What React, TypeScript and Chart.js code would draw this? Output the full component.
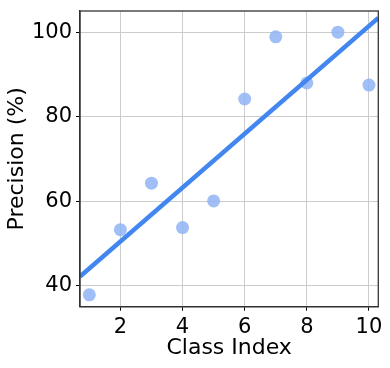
import React, { useEffect, useRef } from "react";
import { Chart, registerables } from "chart.js";

Chart.register(...registerables);

const classIndex = [1, 2, 3, 4, 5, 6, 7, 8, 9, 10];
const precision = [37.9, 53.3, 64.3, 53.8, 60.1, 84.2, 98.9, 88.0, 100.0, 87.5];
const xTicks = [2, 4, 6, 8, 10];
const yTicks = [40, 60, 80, 100];
const xLimits = [0.7, 10.3];
const yLimits = [35.1, 105.0];

function fitLine(xs: number[], ys: number[]) {
  const n = xs.length;
  const mx = xs.reduce((a, b) => a + b, 0) / n;
  const my = ys.reduce((a, b) => a + b, 0) / n;
  let sxy = 0, sxx = 0;
  for (let i = 0; i < n; i++) {
    sxy += (xs[i] - mx) * (ys[i] - my);
    sxx += (xs[i] - mx) * (xs[i] - mx);
  }
  const slope = sxy / sxx;
  return { slope, intercept: my - slope * mx };
}

export default function App() {
  const ref = useRef<HTMLCanvasElement>(null);
  useEffect(() => {
    document.body.style.margin = "0";
    const { slope, intercept } = fitLine(classIndex, precision);
    const lineData = xLimits.map((x) => ({ x, y: intercept + slope * x }));
    const font = "'DejaVu Sans', sans-serif";
    const chart = new Chart(ref.current!, {
      type: "scatter",
      data: {
        datasets: [
          {
            type: "line",
            data: lineData,
            borderColor: "#4286f0",
            borderWidth: 4.5,
            pointRadius: 0,
            fill: false,
            order: 0,
          },
          {
            data: classIndex.map((x, i) => ({ x, y: precision[i] })),
            backgroundColor: "rgba(143,180,245,0.85)",
            borderWidth: 0,
            pointRadius: 6.5,
            order: 1,
          },
        ],
      },
      options: {
        animation: false,
        responsive: false,
        maintainAspectRatio: false,
        layout: { padding: { top: 11, right: 11.7, left: 0, bottom: 0 } },
        plugins: { legend: { display: false }, tooltip: { enabled: false } },
        scales: {
          x: {
            type: "linear",
            min: xLimits[0],
            max: xLimits[1],
            afterBuildTicks: (s: any) => {
              s.ticks = xTicks.map((v) => ({ value: v }));
            },
            afterFit: (s: any) => {
              s.height = 61.3;
              s.paddingLeft = 0;
              s.paddingRight = 0;
            },
            ticks: { font: { family: font, size: 21 }, color: "#000", padding: 4 },
            grid: { color: "#cccccc", lineWidth: 1, tickLength: 4, tickColor: "#000", drawTicks: true },
            border: { display: true, color: "#333", width: 1.3 },
            title: { display: true, text: "Class Index", font: { family: font, size: 22 }, color: "#000", padding: { top: 0, bottom: 7 } },
          },
          y: {
            type: "linear",
            min: yLimits[0],
            max: yLimits[1],
            afterBuildTicks: (s: any) => {
              s.ticks = yTicks.map((v) => ({ value: v }));
            },
            afterFit: (s: any) => {
              s.width = 80;
              s.paddingTop = 0;
              s.paddingBottom = 0;
            },
            ticks: { font: { family: font, size: 21 }, color: "#000", padding: 4 },
            grid: { color: "#cccccc", lineWidth: 1, tickLength: 4, tickColor: "#000" },
            border: { display: true, color: "#333", width: 1.3 },
            title: { display: true, text: "Precision (%)", font: { family: font, size: 22 }, color: "#000", padding: { top: 4.5, bottom: 0 } },
          },
        },
      },
      plugins: [
        {
          id: "frame",
          afterDraw: (c: any) => {
            const { left, right, top, bottom } = c.chartArea;
            const ctx = c.ctx;
            ctx.save();
            ctx.strokeStyle = "#333";
            ctx.lineWidth = 1.3;
            ctx.strokeRect(left, top, right - left, bottom - top);
            ctx.restore();
          },
        },
      ],
    });
    return () => chart.destroy();
  }, []);
  return (
    <div style={{ position: "absolute", left: 0, top: 0, width: 390, height: 368 }}>
      <canvas ref={ref} width={390} height={368} style={{ width: 390, height: 368 }} />
    </div>
  );
}
